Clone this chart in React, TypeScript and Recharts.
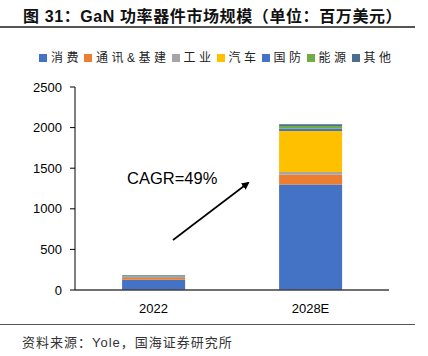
import React from 'react';
import { BarChart, Bar, XAxis, YAxis } from 'recharts';

const categories = ['2022', '2028E'];
const consumer = [127, 1300];
const telecom = [20, 120];
const industrial = [14, 33];
const auto = [6, 505];
const defense = [4, 32];
const energy = [8, 30];
const other = [6, 20];
const yTicks = [0, 500, 1000, 1500, 2000, 2500];

const seriesNames = ['消费', '通讯&基建', '工业', '汽车', '国防', '能源', '其他'];
const seriesKeys = ['consumer', 'telecom', 'industrial', 'auto', 'defense', 'energy', 'other'];
const colors = ['#4472C4', '#ED7D31', '#A5A5A5', '#FFC000', '#4472C4', '#70AD47', '#4A6E8E'];

const data = categories.map((c, i) => ({
  name: c,
  consumer: consumer[i],
  telecom: telecom[i],
  industrial: industrial[i],
  auto: auto[i],
  defense: defense[i],
  energy: energy[i],
  other: other[i],
}));

const FONT = '"Liberation Sans", "Noto Sans CJK SC", sans-serif';

export default function App() {
  return (
    <div style={{ position: 'absolute', left: 0, top: 0, width: 428, height: 356, background: '#fff', fontFamily: FONT }}>
      <div style={{ position: 'absolute', left: 23, top: 7, fontSize: 16, fontWeight: 'bold', color: '#111', whiteSpace: 'nowrap', lineHeight: '20px', letterSpacing: 0.6 }}>
        图 31：GaN 功率器件市场规模（单位：百万美元）
      </div>
      <div style={{ position: 'absolute', left: 0, top: 26, width: 415, height: 1.5, background: '#555' }} />
      <BarChart
        width={428}
        height={356}
        data={data}
        margin={{ top: 87, right: 39, bottom: 36, left: 35 }}
        barCategoryGap="30%"
        style={{ position: 'absolute', left: 0, top: 0 }}
      >
        <XAxis
          dataKey="name"
          height={30}
          tickLine={false}
          tickSize={0}
          tickMargin={14}
          axisLine={{ stroke: '#404040', strokeWidth: 1.5 }}
          tick={{ fontSize: 13, fill: '#000', fontFamily: FONT }}
        />
        <YAxis
          width={40}
          domain={[0, 2500]}
          ticks={yTicks}
          interval={0}
          tickSize={5}
          tickMargin={8}
          axisLine={{ stroke: '#000' }}
          tickLine={{ stroke: '#000' }}
          tick={{ fontSize: 13, fill: '#000', fontFamily: FONT }}
        />
        {seriesKeys.map((k, i) => (
          <Bar key={k} dataKey={k} stackId="a" fill={colors[i]} isAnimationActive={false} />
        ))}
      </BarChart>
      <svg width={428} height={356} style={{ position: 'absolute', left: 0, top: 0, pointerEvents: 'none' }}>
        <defs>
          <marker id="ah" markerWidth="8" markerHeight="8" refX="6" refY="4" orient="auto" markerUnits="userSpaceOnUse">
            <path d="M0,0 L8,4 L0,8 Z" fill="#000" />
          </marker>
        </defs>
        <line x1={173} y1={240} x2={248} y2={183} stroke="#000" strokeWidth={1.6} markerEnd="url(#ah)" />
        <text x={127} y={184} fontSize={16.5} fill="#000" fontFamily={FONT}>CAGR=49%</text>
      </svg>
      <div style={{ position: 'absolute', left: 39, top: 50, display: 'flex', alignItems: 'center', fontSize: 12, letterSpacing: 3.5, color: '#222', whiteSpace: 'nowrap', lineHeight: '16px' }}>
        {seriesNames.map((n, i) => (
          <span key={n} style={{ display: 'flex', alignItems: 'center', marginRight: 2 }}>
            <span style={{ display: 'inline-block', width: 8, height: 8, background: colors[i], marginRight: 4 }} />
            <span>{n}</span>
          </span>
        ))}
      </div>
      <div style={{ position: 'absolute', left: 0, top: 324, width: 415, height: 1, background: '#555' }} />
      <div style={{ position: 'absolute', left: 22, top: 335, fontSize: 13, letterSpacing: 1, color: '#333', whiteSpace: 'nowrap', lineHeight: '16px' }}>
        资料来源：Yole，国海证券研究所
      </div>
    </div>
  );
}
